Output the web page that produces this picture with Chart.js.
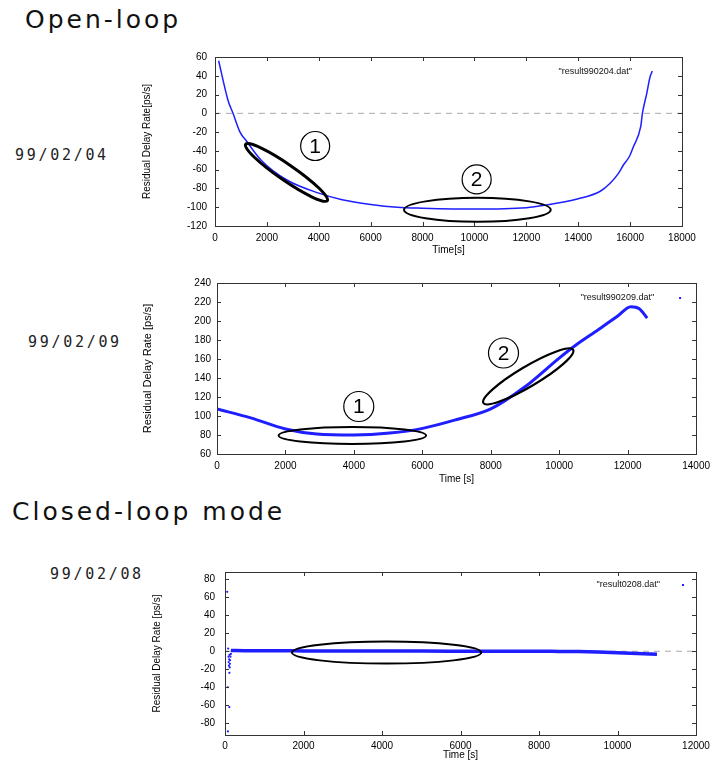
<!DOCTYPE html>
<html>
<head>
<meta charset="utf-8">
<script src="https://cdn.jsdelivr.net/npm/chart.js@4.4.1/dist/chart.umd.min.js"></script>
<style>
body { margin: 0; background: #fff; width: 716px; height: 765px; position: relative; overflow: hidden; }
.head { position: absolute; font-family: 'DejaVu Sans'; font-size: 25px; line-height: 25px; letter-spacing: 3px; color: #111; white-space: nowrap; }
.date { position: absolute; font-family: 'DejaVu Sans Mono'; font-size: 15px; line-height: 15px; letter-spacing: 2.7px; color: #222; }
.box { position: absolute; left: 138px; width: 578px; }
</style>
</head>
<body>
<div class="head" style="left:25px;top:7px">Open-loop</div>
<div class="head" style="left:12px;top:499px">Closed-loop mode</div>
<div class="date" style="left:15px;top:148px">99/02/04</div>
<div class="date" style="left:28px;top:335px">99/02/09</div>
<div class="date" style="left:50px;top:567px">99/02/08</div>
<div class="box" style="top:40px;height:216px"><canvas id="c0204"></canvas></div>
<div class="box" style="top:266px;height:219px"><canvas id="c0209"></canvas></div>
<div class="box" style="top:556px;height:205px"><canvas id="c0208"></canvas></div>
<script>
// 99/02/04 open-loop
const time0204 = [140, 500, 694, 964, 1200, 1780, 2770, 4000, 4900, 6000, 7030, 8000, 10000, 12000, 12700, 14000, 14850, 15230, 15550, 15742, 15972, 16127, 16410, 16474, 16640, 16770, 16858];
const rate0204 = [56, 14, 0, -20, -29, -50, -71, -85, -92, -97, -100, -101, -102, -100.5, -98, -91, -83, -74.5, -64, -55, -46, -35.5, -14, 0, 21, 39, 45];
const xTicks0204 = [0, 2000, 4000, 6000, 8000, 10000, 12000, 14000, 16000, 18000];
const yTicks0204 = [-120, -100, -80, -60, -40, -20, 0, 20, 40, 60];

// 99/02/09 open-loop
const time0209 = [0, 985, 2000, 2910, 4000, 5050, 6010, 6980, 8000, 9010, 10000, 10500, 11150, 11700, 12094, 12340, 12570];
const rate0209 = [107.4, 98, 86.3, 81, 80, 82, 87, 96, 107.5, 131, 161, 175, 191, 205, 215, 213, 203];
const xTicks0209 = [0, 2000, 4000, 6000, 8000, 10000, 12000, 14000];
const yTicks0209 = [60, 80, 100, 120, 140, 160, 180, 200, 220, 240];

// 99/02/08 closed-loop
const time0208 = [150, 500, 1000, 1500, 2000, 3000, 4000, 5000, 6000, 7000, 8000, 8500, 9000, 9500, 10000, 10500, 11005];
const rate0208 = [0.8, 0.6, 0.5, 0.5, 0.4, 0.3, 0.2, 0.2, 0.1, 0, 0, -0.2, -0.4, -0.8, -1.6, -2.4, -3.4];
const spikeTime0208 = [56, 74, 74, 80, 90, 95, 100, 105, 111, 111, 115, 120, 125, 130, 140, 150];
const spikeRate0208 = [66, -40, -89, 3, -6, -12, -16, -9, -24, -62, -4, -18, -14, -10, -6, -3];
const xTicks0208 = [0, 2000, 4000, 6000, 8000, 10000, 12000];
const yTicks0208 = [-80, -60, -40, -20, 0, 20, 40, 60, 80];

const BLUE = '#1e1eff';
Chart.defaults.font.family = "'Liberation Sans', Arial, sans-serif";
Chart.defaults.color = '#000';

function pts(xs, ys) {
    return xs.map(function(x, i) { return {x: x, y: ys[i]}; });
}

// box round the plot with inward tick marks
const framePlugin = {
    id: 'frame',
    afterDatasetsDraw(chart) {
        const {ctx, chartArea: a, scales} = chart;
        ctx.save();
        ctx.strokeStyle = '#333';
        ctx.lineWidth = 1;
        ctx.strokeRect(Math.round(a.left) + 0.5, Math.round(a.top) + 0.5, Math.round(a.right - a.left), Math.round(a.bottom - a.top));
        ctx.beginPath();
        scales.x.ticks.forEach(function(t) {
            const px = Math.round(scales.x.getPixelForValue(t.value)) + 0.5;
            ctx.moveTo(px, a.bottom); ctx.lineTo(px, a.bottom - 4);
            ctx.moveTo(px, a.top); ctx.lineTo(px, a.top + 4);
        });
        scales.y.ticks.forEach(function(t) {
            const py = Math.round(scales.y.getPixelForValue(t.value)) + 0.5;
            ctx.moveTo(a.left, py); ctx.lineTo(a.left + 4, py);
            ctx.moveTo(a.right, py); ctx.lineTo(a.right - 4, py);
        });
        ctx.stroke();
        ctx.restore();
    }
};

// hand-drawn ellipses, circled numbers and the file name key
const notesPlugin = {
    id: 'notes',
    afterDatasetsDraw(chart, args, opts) {
        const {ctx, chartArea: a} = chart;
        const x = chart.scales.x, y = chart.scales.y;
        ctx.save();
        ctx.strokeStyle = '#000';
        (opts.ellipses || []).forEach(function(e) {
            const x1 = x.getPixelForValue(e.from[0]), y1 = y.getPixelForValue(e.from[1]);
            const x2 = x.getPixelForValue(e.to[0]), y2 = y.getPixelForValue(e.to[1]);
            const rx = Math.hypot(x2 - x1, y2 - y1) / 2;
            ctx.lineWidth = e.width;
            ctx.beginPath();
            ctx.ellipse((x1 + x2) / 2, (y1 + y2) / 2, rx, e.half, Math.atan2(y2 - y1, x2 - x1), 0, Math.PI * 2);
            ctx.stroke();
        });
        (opts.marks || []).forEach(function(m) {
            const cx = x.getPixelForValue(m.at[0]), cy = y.getPixelForValue(m.at[1]);
            ctx.lineWidth = 1.2;
            ctx.beginPath();
            ctx.arc(cx, cy, m.r, 0, Math.PI * 2);
            ctx.stroke();
            ctx.fillStyle = '#000';
            ctx.font = "21px 'Liberation Sans'";
            ctx.textAlign = 'center';
            ctx.textBaseline = 'middle';
            ctx.fillText(m.text, cx, cy + 1);
        });
        if (opts.file) {
            ctx.fillStyle = '#111';
            ctx.font = "9px 'Liberation Sans'";
            ctx.textAlign = 'right';
            ctx.textBaseline = 'middle';
            ctx.fillText(opts.file, a.right - opts.fileRight, a.top + opts.fileTop);
            if (opts.dot) {
                ctx.fillStyle = BLUE;
                ctx.fillRect(a.right - opts.dot - 1, a.top + opts.fileTop - 1, 2, 2);
            }
        }
        ctx.restore();
    }
};

function makeChart(id, c) {
    const datasets = [{
        data: pts(c.time, c.rate),
        showLine: true,
        borderColor: BLUE,
        borderWidth: c.lineWidth,
        pointRadius: 0,
        cubicInterpolationMode: 'monotone'
    }];
    if (c.spikeTime) {
        datasets.push({
            data: pts(c.spikeTime, c.spikeRate),
            showLine: false,
            pointRadius: 1.1,
            pointBorderWidth: 0,
            backgroundColor: BLUE
        });
    }
    if (c.zeroLine) {
        datasets.push({
            data: pts([c.xMin, c.xMax], [0, 0]),
            showLine: true,
            borderColor: '#aaa',
            borderWidth: 1,
            borderDash: [6, 5],
            pointRadius: 0
        });
    }
    return new Chart(document.getElementById(id), {
        type: 'scatter',
        data: {datasets: datasets},
        options: {
            responsive: true,
            maintainAspectRatio: false,
            animation: false,
            layout: {padding: {top: c.padTop, right: c.padRight, left: 0, bottom: 0}},
            plugins: {
                legend: {display: false},
                tooltip: {enabled: false},
                notes: c.notes
            },
            scales: {
                x: {
                    type: 'linear',
                    min: c.xMin,
                    max: c.xMax,
                    afterBuildTicks: function(s) { s.ticks = c.xTicks.map(function(v) { return {value: v}; }); },
                    afterFit: function(s) { s.height = c.xHeight; },
                    grid: {display: false, drawTicks: false},
                    border: {display: false},
                    ticks: {padding: c.xPad, font: {size: 10}, maxRotation: 0, callback: function(v) { return String(v); }},
                    title: {display: true, text: c.xTitle, font: {size: 10}, padding: 0}
                },
                y: {
                    type: 'linear',
                    min: c.yMin,
                    max: c.yMax,
                    afterBuildTicks: function(s) { s.ticks = c.yTicks.map(function(v) { return {value: v}; }); },
                    afterFit: function(s) { s.width = c.yWidth; },
                    grid: {display: false, drawTicks: false},
                    border: {display: false},
                    ticks: {padding: c.yPad, font: {size: 10}, callback: function(v) { return String(v); }},
                    title: {display: true, text: c.yTitle, font: {size: c.yTitleSize}, padding: {top: c.yTitlePad, bottom: 0}}
                }
            }
        },
        plugins: [framePlugin, notesPlugin]
    });
}

makeChart('c0204', {
    time: time0204, rate: rate0204, lineWidth: 1.5, zeroLine: true,
    xMin: 0, xMax: 18000, yMin: -120, yMax: 60, xTicks: xTicks0204, yTicks: yTicks0204,
    padTop: 17, padRight: 34, xHeight: 30, yWidth: 77, xPad: 6, yPad: 8,
    xTitle: 'Time[s]', yTitle: 'Residual Delay Rate[ps/s]', yTitleSize: 10, yTitlePad: 3,
    notes: {
        ellipses: [
            {from: [1180, -33], to: [4330, -93], half: 8, width: 3},
            {from: [7285, -102.8], to: [12940, -102.8], half: 12, width: 2}
        ],
        marks: [
            {at: [3860, -34.8], r: 14.5, text: '1'},
            {at: [10085, -70.4], r: 14.5, text: '2'}
        ],
        file: '"result990204.dat"', fileRight: 50, fileTop: 15, dot: 0
    }
});

makeChart('c0209', {
    time: time0209, rate: rate0209, lineWidth: 3,
    xMin: 0, xMax: 14000, yMin: 60, yMax: 240, xTicks: xTicks0209, yTicks: yTicks0209,
    padTop: 17, padRight: 19, xHeight: 31, yWidth: 79, xPad: 6, yPad: 6,
    xTitle: 'Time [s]', yTitle: 'Residual Delay Rate [ps/s]', yTitleSize: 11, yTitlePad: 3,
    notes: {
        ellipses: [
            {from: [1800, 79.5], to: [6110, 79.5], half: 8.5, width: 2},
            {from: [7784, 113.7], to: [10407, 169.8], half: 10, width: 2.2}
        ],
        marks: [
            {at: [4143, 110], r: 15, text: '1'},
            {at: [8372, 166.3], r: 15, text: '2'}
        ],
        file: '"result990209.dat"', fileRight: 42, fileTop: 15, dot: 16
    }
});

makeChart('c0208', {
    time: time0208, rate: rate0208, lineWidth: 3.5, zeroLine: true,
    spikeTime: spikeTime0208, spikeRate: spikeRate0208,
    xMin: 0, xMax: 12000, yMin: -93, yMax: 88, xTicks: xTicks0208, yTicks: yTicks0208,
    padTop: 15, padRight: 20, xHeight: 26, yWidth: 87, xPad: 5, yPad: 10,
    xTitle: 'Time [s]', yTitle: 'Residual Delay Rate [ps/s]', yTitleSize: 10, yTitlePad: 13,
    notes: {
        ellipses: [
            {from: [1706, -1.5], to: [6529, -1.5], half: 11, width: 2}
        ],
        marks: [],
        file: '"result0208.dat"', fileRight: 36, fileTop: 13, dot: 13
    }
});
</script>
</body>
</html>
